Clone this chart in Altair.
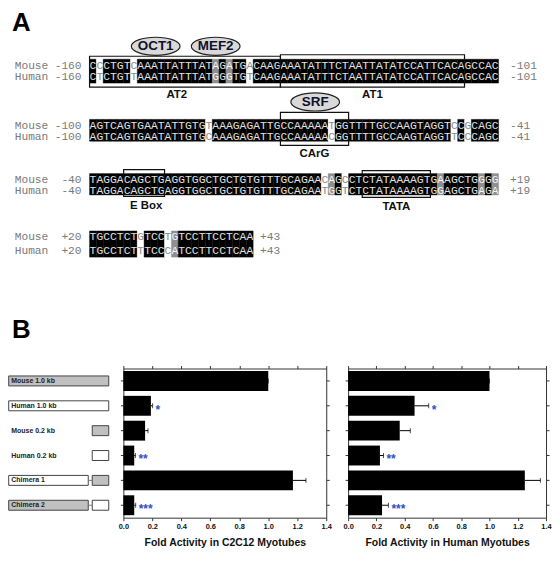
import altair as alt
import pandas as pd

# ---------------- Panel A data: aligned promoter sequences ----------------
mouse_seqs = [
    "CCCTGTCAAATTATTTATAGATGACAAGAAATATTTCTAATTATATCCATTCACAGCCAC",
    "AGTCAGTGAATATTGTGTAAAGAGATTGCCAAAAATGGTTTTGCCAAGTAGGTCCGCAGC",
    "TAGGACAGCTGAGGTGGCTGCTGTGTTTGCAGAACAGCCTCTATAAAAGTGAAGCTGGGG",
    "TGCCTCTGTCCTGTCCTTCCTCAA",
]
human_seqs = [
    "CTCTGTTAAATTATTTATGGGTGTCAAGAAATATTTCTAATTATATCCATTCACAGCCAC",
    "AGTCAGTGAATATTGTGCAAAGAGATTGCCAAAAACGGTTTTGCCAAGTAGGTTCCCAGC",
    "TAGGACAGCTGAGGTGGCTGCTGTGTTTGCAGAATGGTCTCTATAAAAGTGGAGCTGAGA",
    "TGCCTCTTTCCCATCCTTCCTCAA",
]
species = ["Mouse", "Human"]
start_labels = ["-160", "-100", "-40", "+20"]
end_labels = ["-101", "-41", "+19", "+43"]

elements = ["AT2", "AT1", "CArG", "E Box", "TATA"]
element_row = [0, 0, 1, 2, 2]
element_first = [1, 29, 29, 6, 41]
element_last = [28, 55, 38, 11, 50]

factors = ["OCT1", "MEF2", "SRF"]
factor_pos = [10.2, 19.0, 33.6]

# ---------------- Panel B data: reporter activity ----------------
constructs = ["Mouse 1.0 kb", "Human 1.0 kb", "Mouse 0.2 kb", "Human 0.2 kb", "Chimera 1", "Chimera 2"]
upstream_species = ["mouse", "human", "", "", "human", "mouse"]
proximal_species = ["mouse", "human", "mouse", "human", "mouse", "human"]

c2c12_mean = [1.00, 0.19, 0.15, 0.075, 1.17, 0.075]
c2c12_err = [0.0, 0.012, 0.02, 0.008, 0.09, 0.01]
c2c12_sig = ["", "*", "", "**", "", "***"]

hmyo_mean = [1.00, 0.47, 0.365, 0.225, 1.25, 0.24]
hmyo_err = [0.0, 0.10, 0.075, 0.025, 0.11, 0.045]
hmyo_sig = ["", "*", "", "**", "", "***"]

ticks = [0.0, 0.2, 0.4, 0.6, 0.8, 1.0, 1.2, 1.4]

# ---------------- layout (not data) ----------------
CW = 6.855
X0 = 88.0


def p_of(x):
    return 0.5 + (x - X0) / CW


ROW_M = [61.0, 121.0, 175.5, 233.0]
ROW_H = [72.3, 132.0, 186.5, 246.5]
CELL_T = [54.0, 114.5, 169.0, 226.7]
CELL_B = [78.0, 136.5, 190.5, 253.0]
BOX_T = [51.0, 49.5, 107.5, 165.0, 166.0]
BOX_B = [82.0, 82.0, 140.7, 192.0, 193.0]
LABEL_Y = [90.5, 90.5, 149.0, 202.0, 203.0]
LABEL_X = [13.3, 42.0, 33.5, 8.8, 45.5]
FACTOR_Y = [41.0, 41.0, 97.0]

SANS = "Liberation Sans"
MONO = "Liberation Mono"

CELL_COL = {"match": "#000000", "purine": "#8f8f8f", "other": "#ffffff"}
TEXT_COL = {"match": "#e2e2e2", "purine": "#f6f6f6", "other": "#8a8a8a"}

cells, letters, side = [], [], []
for r, (ms, hs) in enumerate(zip(mouse_seqs, human_seqs)):
    for i, (a, b) in enumerate(zip(ms, hs), start=1):
        if a == b:
            kind = "match"
        elif {a, b} <= {"A", "G"}:
            kind = "purine"
        else:
            kind = "other"
        cells.append(dict(x0=i - 0.5, x1=i + 0.5, y0=CELL_T[r], y1=CELL_B[r], kind=kind, col=CELL_COL[kind]))
        letters.append(dict(p=i, y=ROW_M[r], ch=a, kind=kind, col=TEXT_COL[kind]))
        letters.append(dict(p=i, y=ROW_H[r], ch=b, kind=kind, col=TEXT_COL[kind]))
    for sp, yy in zip(species, [ROW_M[r], ROW_H[r]]):
        side.append(dict(p=p_of(12.7), y=yy, t=sp, al="left"))
        side.append(dict(p=p_of(80.0), y=yy, t=start_labels[r], al="right"))
        endx = p_of(510.7) if len(mouse_seqs[r]) == 60 else p_of(259.3)
        side.append(dict(p=endx, y=yy, t=end_labels[r], al="left"))

cells_df = pd.DataFrame(cells)
letters_df = pd.DataFrame(letters)
side_df = pd.DataFrame(side)

el_df = pd.DataFrame(dict(
    name=elements,
    x0=[f - 0.5 for f in element_first],
    x1=[l + 0.5 for l in element_last],
    y0=BOX_T, y1=BOX_B, ly=LABEL_Y, lx=LABEL_X,
))
fac_df = pd.DataFrame(dict(name=factors, p=factor_pos, y=FACTOR_Y))
letter_df = pd.DataFrame(dict(t=["A", "B"], p=[p_of(10), p_of(10)], y=[17.5, 326.0]))

xA = alt.Scale(domain=[p_of(6), p_of(551)], nice=False, zero=False)
yA = alt.Scale(domain=[4, 344], reverse=True, nice=False, zero=False)


def X(f):
    return alt.X(f, type="quantitative", scale=xA, axis=None)


def Y(f):
    return alt.Y(f, type="quantitative", scale=yA, axis=None)


cell_layer = alt.Chart(cells_df).mark_rect(strokeWidth=0.4).encode(
    x=X("x0"), x2="x1", y=Y("y0"), y2="y1",
    color=alt.Color("col:N", scale=None),
    stroke=alt.Stroke("col:N", scale=None),
)
letter_layer = alt.Chart(letters_df).mark_text(font=MONO, fontSize=11.3, baseline="middle").encode(
    x=X("p"), y=Y("y"), text="ch:N",
    color=alt.Color("col:N", scale=None),
)
side_left = alt.Chart(side_df[side_df.al == "left"]).mark_text(
    font=MONO, fontSize=11.3, baseline="middle", align="left", color="#7a7a7a"
).encode(x=X("p"), y=Y("y"), text="t:N")
side_right = alt.Chart(side_df[side_df.al == "right"]).mark_text(
    font=MONO, fontSize=11.3, baseline="middle", align="right", color="#7a7a7a"
).encode(x=X("p"), y=Y("y"), text="t:N")
box_layer = alt.Chart(el_df).mark_rect(fillOpacity=0, stroke="#111111", strokeWidth=1.2).encode(
    x=X("x0"), x2="x1", y=Y("y0"), y2="y1"
)
box_label = alt.Chart(el_df).mark_text(font=SANS, fontSize=11.5, fontWeight="bold", color="#111111", baseline="middle").encode(
    x=X("lx"), y=Y("ly"), text="name:N"
)
ELL = "M-1,0A1,0.37,0,1,1,1,0A1,0.37,0,1,1,-1,0Z"
ell_layer = alt.Chart(fac_df).mark_point(
    shape=ELL, size=49 * 49, filled=True, fill="#d9d9d9", stroke="#222222", strokeWidth=1.2, opacity=1
).encode(x=X("p"), y=Y("y"))
ell_text = alt.Chart(fac_df).mark_text(font=SANS, fontSize=13.5, fontWeight="bold", color="#10102a", baseline="middle").encode(
    x=X("p"), y=Y("y"), text="name:N"
)
panel_letters = alt.Chart(letter_df).mark_text(font=SANS, fontSize=26, fontWeight="bold", color="#000000", align="left", baseline="middle").encode(
    x=X("p"), y=Y("y"), text="t:N"
)

panelA = alt.layer(
    cell_layer, letter_layer, side_left, side_right, box_layer, box_label, ell_layer, ell_text, panel_letters
).properties(width=545, height=340)

# ---------------- Panel B: construct diagrams ----------------
segs, conns = [], []
for name, up, pr in zip(constructs, upstream_species, proximal_species):
    if up == pr:
        segs.append(dict(construct=name, x0=6.7, x1=107.3, sp=pr))
    else:
        if up:
            segs.append(dict(construct=name, x0=6.7, x1=86.7, sp=up))
            conns.append(dict(construct=name, x0=86.7, x1=90.7))
        segs.append(dict(construct=name, x0=90.7, x1=107.3, sp=pr))
segs_df = pd.DataFrame(segs)
conn_df = pd.DataFrame(conns)
clab_df = pd.DataFrame(dict(construct=constructs, x=[9.3] * len(constructs)))

band = alt.Scale(domain=constructs, paddingInner=0.2, paddingOuter=0.1)
xC = alt.Scale(domain=[6, 112], nice=False, zero=False)

c_boxes = alt.Chart(segs_df).mark_bar(height=10, stroke="#444444", strokeWidth=1).encode(
    x=alt.X("x0:Q", scale=xC, axis=None), x2="x1:Q",
    y=alt.Y("construct:N", scale=band, axis=None),
    fill=alt.Fill("sp:N", scale=alt.Scale(domain=["mouse", "human"], range=["#c0c0c0", "#ffffff"]), legend=None),
)
c_conn = alt.Chart(conn_df).mark_rule(color="#777777", strokeWidth=1).encode(
    x=alt.X("x0:Q", scale=xC, axis=None), x2="x1:Q",
    y=alt.Y("construct:N", scale=band, axis=None),
)
c_text = alt.Chart(clab_df).mark_text(font=SANS, fontSize=7, fontWeight="bold", color="#222222", align="left", baseline="middle").encode(
    x=alt.X("x:Q", scale=xC, axis=None),
    y=alt.Y("construct:N", scale=band, axis=None),
    text="construct:N",
)
construct_panel = alt.layer(c_boxes, c_conn, c_text).properties(width=106, height=150)


def bar_panel(mean, err, sig, title, width):
    df = pd.DataFrame(dict(construct=constructs, mean=mean, hi=[m + e for m, e in zip(mean, err)], sig=sig))
    xs = alt.Scale(domain=[0, 1.4], nice=False, zero=True)
    common = dict(domainColor="#333333", tickColor="#333333", domainWidth=1, tickWidth=1, grid=False, tickSize=3)
    x_axis = alt.Axis(
        values=ticks, format=".1f", title=title, orient="bottom",
        labelFont=SANS, labelFontSize=7.5, labelFontWeight="bold", labelColor="#111111",
        labelPadding=2, labelFlush=False,
        titleFont=SANS, titleFontSize=10.5, titleFontWeight="bold", titleColor="#111111", titlePadding=7,
        **common,
    )
    x_top = alt.Axis(values=ticks, labels=False, title=None, orient="top", **common)
    y_left = alt.Axis(labels=False, title=None, orient="left", bandPosition=0.5, **common)
    y_right = alt.Axis(labels=False, title=None, orient="right", bandPosition=0.5, **common)
    base = alt.Chart(df)
    bars = base.mark_bar(color="#000000").encode(
        x=alt.X("mean:Q", scale=xs, axis=x_axis), y=alt.Y("construct:N", scale=band, axis=y_left)
    )
    errs = base.mark_rule(color="#000000", strokeWidth=1).encode(
        x=alt.X("mean:Q", scale=xs, axis=None), x2="hi:Q", y=alt.Y("construct:N", scale=band, axis=None)
    )
    caps = base.mark_tick(color="#000000", thickness=1, size=5).encode(
        x=alt.X("hi:Q", scale=xs, axis=None), y=alt.Y("construct:N", scale=band, axis=None)
    )
    stars = base.mark_text(font=SANS, fontSize=12, fontWeight="bold", color="#3050c8", align="left", baseline="middle", dx=3, dy=4).encode(
        x=alt.X("hi:Q", scale=xs, axis=None), y=alt.Y("construct:N", scale=band, axis=None), text="sig:N"
    )
    frame = base.mark_bar(opacity=0).encode(
        x=alt.X("mean:Q", scale=xs, axis=x_top), y=alt.Y("construct:N", scale=band, axis=y_right)
    )
    return alt.layer(bars, errs, caps, stars, frame).resolve_axis(x="independent", y="independent").properties(
        width=width, height=150
    )


left = bar_panel(c2c12_mean, c2c12_err, c2c12_sig, "Fold Activity in C2C12 Myotubes", 204)
right = bar_panel(hmyo_mean, hmyo_err, hmyo_sig, "Fold Activity in Human Myotubes", 199)

chart = alt.vconcat(panelA, alt.hconcat(
    construct_panel,
    alt.hconcat(left, right, spacing=22, bounds="flush"),
    spacing=10, bounds="flush"),
    spacing=21, bounds="flush", padding=0,
).configure_view(stroke=None)

chart.save("out.html", embed_options={"renderer": "svg", "actions": False})
